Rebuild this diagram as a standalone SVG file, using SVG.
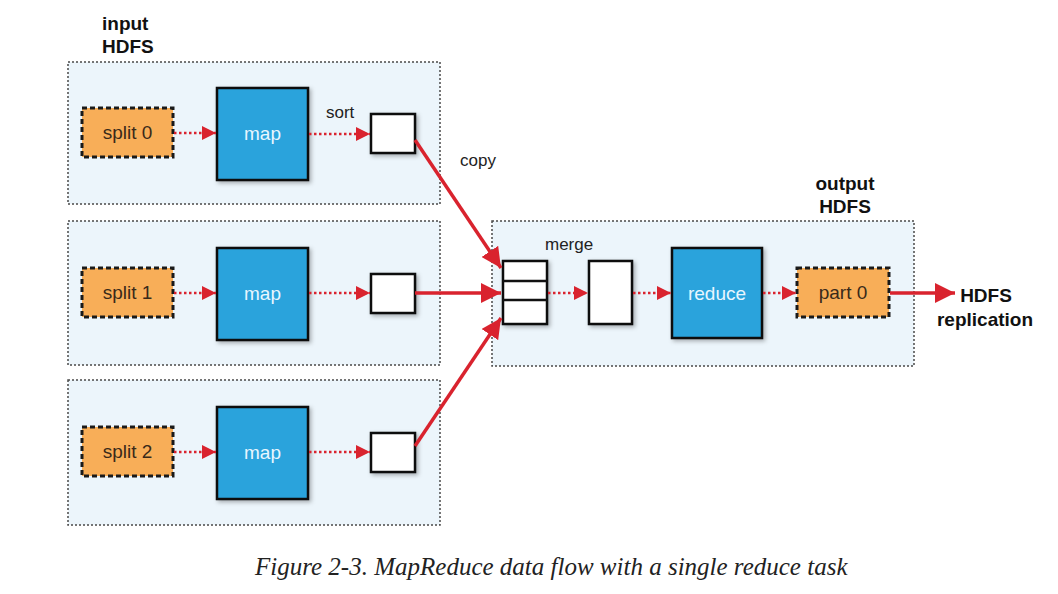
<svg xmlns="http://www.w3.org/2000/svg" width="1058" height="594" viewBox="0 0 1058 594">
<style>
.hdfs{fill:#ecf5fb;stroke:#4a4a4a;stroke-width:1.5;stroke-dasharray:2 2}
.split{fill:#f8ae58;stroke:#1a1a1a;stroke-width:3;stroke-dasharray:5 3}
.map{fill:#2aa3dc;stroke:#111;stroke-width:2.5}
.buf{fill:#fff;stroke:#111;stroke-width:2.5}
.lbl{font-family:"Liberation Sans",Arial,sans-serif;font-size:19px;fill:#3a2a1a}
.wlbl{font-family:"Liberation Sans",Arial,sans-serif;font-size:19px;fill:#e8f6ff}
.tlbl{font-family:"Liberation Sans",Arial,sans-serif;font-size:17px;fill:#222}
.blbl{font-family:"Liberation Sans",Arial,sans-serif;font-size:19px;font-weight:bold;fill:#111}
.dot{stroke:#d9232e;stroke-width:2.5;stroke-dasharray:2.5 2.5;fill:none}
.solid{stroke:#d9232e;stroke-width:3.5;fill:none}
.cap{font-family:"Liberation Serif","Times New Roman",serif;font-style:italic;font-size:25px;fill:#222}
</style>
<defs>
<marker id="ah" viewBox="0 0 10 10" refX="10" refY="5" markerWidth="14" markerHeight="14" markerUnits="userSpaceOnUse" orient="auto"><path d="M0,0 L10,5 L0,10 z" fill="#d9232e"/></marker>
<marker id="ahb" viewBox="0 0 10 10" refX="10" refY="5" markerWidth="20" markerHeight="20" markerUnits="userSpaceOnUse" orient="auto"><path d="M0,0 L10,5 L0,10 z" fill="#d9232e"/></marker>
<filter id="sh" x="-10%" y="-10%" width="130%" height="130%"><feDropShadow dx="2" dy="2" stdDeviation="2" flood-color="#000" flood-opacity="0.3"/></filter>
</defs>
<rect width="1058" height="594" fill="#fff"/>
<g id="input-hdfs">
<rect class="hdfs" x="68" y="62" width="372" height="142"/>
<rect class="hdfs" x="68" y="221" width="372" height="144"/>
<rect class="hdfs" x="68" y="380" width="372" height="145"/>
<text class="blbl" x="102" y="30">input</text>
<text class="blbl" x="102" y="53">HDFS</text>
</g>
<g id="output-hdfs">
<rect class="hdfs" x="492" y="221" width="422" height="145"/>
<text class="blbl" x="845" y="190" text-anchor="middle">output</text>
<text class="blbl" x="845" y="213" text-anchor="middle">HDFS</text>
</g>
<g id="split0"><rect class="split" x="82" y="108" width="91" height="49"/><text class="lbl" x="127.5" y="139" text-anchor="middle">split 0</text></g>
<g id="split1"><rect class="split" x="82" y="268" width="91" height="49"/><text class="lbl" x="127.5" y="299" text-anchor="middle">split 1</text></g>
<g id="split2"><rect class="split" x="82" y="427" width="91" height="49"/><text class="lbl" x="127.5" y="458" text-anchor="middle">split 2</text></g>
<g id="map0"><rect class="map" filter="url(#sh)" x="217" y="88" width="91" height="92"/><text class="wlbl" x="262.5" y="140" text-anchor="middle">map</text></g>
<g id="map1"><rect class="map" filter="url(#sh)" x="217" y="248" width="91" height="92"/><text class="wlbl" x="262.5" y="300" text-anchor="middle">map</text></g>
<g id="map2"><rect class="map" filter="url(#sh)" x="217" y="407" width="91" height="92"/><text class="wlbl" x="262.5" y="459" text-anchor="middle">map</text></g>
<g id="buf0"><rect class="buf" filter="url(#sh)" x="371" y="114" width="44" height="39"/></g>
<g id="buf1"><rect class="buf" filter="url(#sh)" x="371" y="274" width="44" height="39"/></g>
<g id="buf2"><rect class="buf" filter="url(#sh)" x="371" y="433" width="44" height="39"/></g>
<g id="merge-buf">
<rect class="buf" filter="url(#sh)" x="503" y="261" width="44" height="63"/>
<line x1="503" y1="281" x2="547" y2="281" stroke="#111" stroke-width="2.5"/>
<line x1="503" y1="300" x2="547" y2="300" stroke="#111" stroke-width="2.5"/>
</g>
<g id="merged"><rect class="buf" filter="url(#sh)" x="589" y="261" width="43" height="63"/></g>
<g id="reduce"><rect class="map" filter="url(#sh)" x="672" y="248" width="90" height="90"/><text class="wlbl" x="717" y="300" text-anchor="middle">reduce</text></g>
<g id="part0"><rect class="split" x="797" y="268" width="92" height="49"/><text class="lbl" x="843" y="299" text-anchor="middle">part 0</text></g>
<g id="hdfs-replication">
<text class="blbl" x="986" y="302" text-anchor="middle">HDFS</text>
<text class="blbl" x="985" y="326" text-anchor="middle">replication</text>
</g>
<g id="connectors">
<line class="dot" x1="174" y1="133" x2="216" y2="133" marker-end="url(#ah)"/>
<line class="dot" x1="174" y1="293" x2="216" y2="293" marker-end="url(#ah)"/>
<line class="dot" x1="174" y1="452" x2="216" y2="452" marker-end="url(#ah)"/>
<line class="dot" x1="309" y1="134" x2="370" y2="134" marker-end="url(#ah)"/>
<line class="dot" x1="309" y1="293" x2="370" y2="293" marker-end="url(#ah)"/>
<line class="dot" x1="309" y1="452" x2="370" y2="452" marker-end="url(#ah)"/>
<line class="solid" x1="415" y1="140" x2="501" y2="268" marker-end="url(#ahb)"/>
<line class="solid" x1="415" y1="293" x2="501" y2="293" marker-end="url(#ahb)"/>
<line class="solid" x1="415" y1="446" x2="501" y2="318" marker-end="url(#ahb)"/>
<line class="dot" x1="548" y1="293" x2="588" y2="293" marker-end="url(#ah)"/>
<line class="dot" x1="633" y1="293" x2="671" y2="293" marker-end="url(#ah)"/>
<line class="dot" x1="763" y1="293" x2="796" y2="293" marker-end="url(#ah)"/>
<line class="solid" x1="890" y1="293" x2="955" y2="293" marker-end="url(#ahb)"/>
<text class="tlbl" x="326" y="118">sort</text>
<text class="tlbl" x="460" y="166">copy</text>
<text class="tlbl" x="545" y="250">merge</text>
</g>
<text class="cap" x="255" y="575">Figure 2-3. MapReduce data flow with a single reduce task</text>
</svg>
